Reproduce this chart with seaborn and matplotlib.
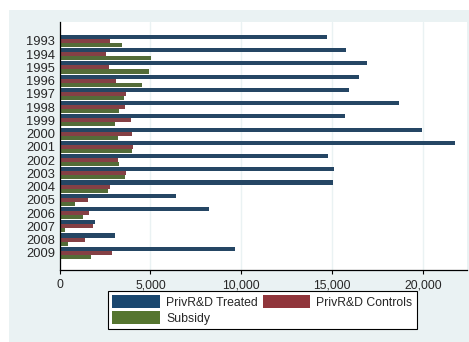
import numpy as np
import pandas as pd
import matplotlib
matplotlib.use('Agg')
import matplotlib.pyplot as plt
from matplotlib.patches import Rectangle
import seaborn as sns

# values
years = [str(y) for y in range(1993, 2010)]
treated = [14700, 15750, 16900, 16500, 15900, 18650, 15700, 19950, 21750,
           14750, 15100, 15050, 6400, 8200, 1950, 3050, 9650]
controls = [2800, 2550, 2750, 3100, 3650, 3600, 3950, 4000, 4050,
            3200, 3650, 2800, 1550, 1600, 1850, 1400, 2900]
subsidy = [3450, 5050, 4900, 4550, 3550, 3250, 3050, 3200, 4000,
           3250, 3600, 2650, 850, 1300, 300, 450, 1750]
series = ['PrivR&D Treated', 'PrivR&D Controls', 'Subsidy']
colors = ['#1a476f', '#90353b', '#55752f']

df = pd.DataFrame({
    'year': years * 3,
    'value': treated + controls + subsidy,
    'series': np.repeat(series, len(years)),
})

sns.set_style('white')
plt.rcParams['font.family'] = ['Liberation Sans', 'DejaVu Sans']

W, H = 469, 342
fig = plt.figure(figsize=(W / 100, H / 100), dpi=100)
fig.patch.set_facecolor('white')
fig.patches.append(Rectangle((9 / W, 0), 1, 1 - 10 / H, transform=fig.transFigure,
                             facecolor='#eaf2f3', edgecolor='none', zorder=-5))

ax = fig.add_axes([59.5 / W, 1 - 270 / H, (466.7 - 59.5) / W, (270 - 22) / H])
ax.set_zorder(2)
ax.set_facecolor('white')

sns.barplot(data=df, x='value', y='year', hue='series', orient='h',
            palette=colors, width=0.92, ax=ax, legend=False,
            edgecolor='none', linewidth=0)

ax.set_xlim(0, 22400)
ax.set_ylim(16 + 1.3, -1.43)
ax.set_xticks([0, 5000, 10000, 15000, 20000])
ax.set_xticklabels(['0', '5,000', '10,000', '15,000', '20,000'], fontsize=8.7)
ax.tick_params(axis='x', length=3, width=0.8, color='black', pad=3.5, direction='out',
               bottom=True)
ax.tick_params(axis='y', length=0, pad=3, labelsize=9.3)
ax.set_xlabel('')
ax.set_ylabel('')
ax.set_axisbelow(True)
ax.grid(axis='x', color='#eaf2f3', linewidth=1)
ax.grid(axis='y', visible=False)

for side in ['top', 'right']:
    ax.spines[side].set_visible(False)
for side in ['left', 'bottom']:
    ax.spines[side].set_color('black')
    ax.spines[side].set_linewidth(0.9)

# column-wise fill: Treated / Subsidy in column 1, Controls in column 2
order = [0, 2, 1]
handles = [Rectangle((0, 0), 1, 1, facecolor=colors[i], edgecolor='none') for i in order]
labels = [series[i] for i in order]
leg = fig.legend(handles, labels, loc='lower left',
                 bbox_to_anchor=(102 / W, 1 - 335 / H, (423 - 102) / W, (335 - 297) / H),
                 mode='expand', ncol=2, fontsize=8.8, frameon=True, fancybox=False,
                 edgecolor='black', handlelength=3.9, handleheight=1.2,
                 columnspacing=1.0, handletextpad=0.5, borderpad=0.35,
                 labelspacing=0.2)
leg.get_frame().set_linewidth(0.8)
leg.get_frame().set_alpha(1)
leg.set_zorder(3)

fig.savefig('out.png', dpi=100, facecolor=fig.get_facecolor())
